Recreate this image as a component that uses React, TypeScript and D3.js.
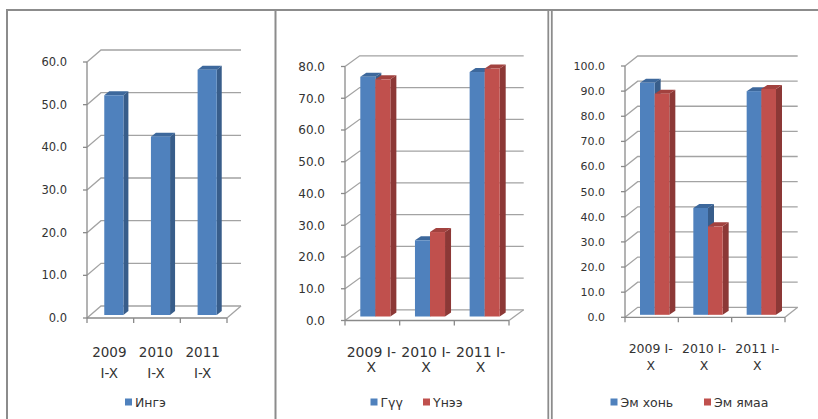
import * as React from 'react';
import * as d3 from 'd3';

const categories = ['2009 I-X', '2010 I-X', '2011 I-X'];

// Panel 1
const ingeValues = [51.5, 41.8, 57.5];
// Panel 2
const guuValues = [75.5, 24.0, 77.0];
const uneeValues = [74.7, 26.6, 78.1];
// Panel 3
const emKhoniValues = [92.3, 42.5, 89.0];
const emYamaaValues = [88.0, 35.2, 89.9];

const ticks1 = [0, 10, 20, 30, 40, 50, 60];
const ticks2 = [0, 10, 20, 30, 40, 50, 60, 70, 80];
const ticks3 = [0, 10, 20, 30, 40, 50, 60, 70, 80, 90, 100];

const BLUE = { front: '#4F81BD', side: '#385D8A', top: '#3D689C' };
const RED = { front: '#C0504D', side: '#8C3836', top: '#A2423F' };

interface Series {
  name: string;
  values: number[];
  color: { front: string; side: string; top: string };
}

interface PanelProps {
  axisX: number;
  floorRight: number;
  zeroY: number;
  topY: number;
  ticks: number[];
  wallDx: number;
  wallDy: number;
  barDx: number;
  barDy: number;
  shiftX: number;
  shiftY: number;
  groupFrac: number;
  series: Series[];
  splitMode: 'space' | 'last';
  labelY: [number, number];
  labelFont: number;
  tickFont: number;
  legendX: number[];
  legendY: number;
}

const splitLabel = (s: string, mode: 'space' | 'last'): [string, string] => {
  if (mode === 'space') {
    const i = s.indexOf(' ');
    return [s.slice(0, i), s.slice(i + 1)];
  }
  return [s.slice(0, s.length - 1), s.slice(s.length - 1)];
};

const fmt = d3.format('.1f');

const Panel: React.FC<PanelProps> = (p) => {
  const y = d3.scaleLinear()
    .domain([0, p.ticks[p.ticks.length - 1]])
    .range([p.zeroY, p.topY]);
  const x = d3.scaleBand<string>().domain(categories).range([p.axisX, p.floorRight]);
  const bw = x.bandwidth();
  const groupW = bw * p.groupFrac;
  const barW = groupW / p.series.length;
  const gridColor = '#A3A3A3';
  const axisColor = '#8A8A8A';

  return (
    <g>
      {/* back wall gridlines */}
      {p.ticks.map((t) => (
        <polyline
          key={'g' + t}
          points={`${p.axisX},${y(t)} ${p.axisX + p.wallDx},${y(t) + p.wallDy} ${p.floorRight + p.wallDx},${y(t) + p.wallDy}`}
          fill="none"
          stroke={gridColor}
          strokeWidth={1.3}
        />
      ))}
      {/* floor */}
      <line x1={p.axisX} x2={p.floorRight} y1={p.zeroY} y2={p.zeroY} stroke={axisColor} strokeWidth={1.3} />
      <line
        x1={p.floorRight} y1={p.zeroY}
        x2={p.floorRight + p.wallDx} y2={p.zeroY + p.wallDy}
        stroke={gridColor} strokeWidth={1.3}
      />
      {/* y axis */}
      <line x1={p.axisX} x2={p.axisX} y1={p.zeroY} y2={p.topY} stroke={axisColor} strokeWidth={1.3} />
      {p.ticks.map((t) => (
        <g key={'t' + t}>
          <line x1={p.axisX - 4} x2={p.axisX} y1={y(t)} y2={y(t)} stroke={axisColor} strokeWidth={1.3} />
          <text
            x={p.axisX - 20}
            y={y(t)}
            dy="0.36em"
            textAnchor="end"
            fontSize={p.tickFont}
            fontFamily="DejaVu Sans"
            fill="#333"
          >
            {fmt(t)}
          </text>
        </g>
      ))}
      {/* x ticks */}
      {categories.map((c, i) => (
        <line
          key={'xt' + c}
          x1={(x(c) || 0)} x2={(x(c) || 0)}
          y1={p.zeroY} y2={p.zeroY + 5}
          stroke={axisColor} strokeWidth={1.3}
        />
      ))}
      <line x1={p.floorRight} x2={p.floorRight} y1={p.zeroY} y2={p.zeroY + 5} stroke={axisColor} strokeWidth={1.3} />
      {/* bars */}
      {categories.map((c, j) => (
        <g key={'b' + c}>
          {p.series.map((s, i) => {
            const bx = (x(c) || 0) + bw / 2 - groupW / 2 + i * barW + p.shiftX;
            const y0 = p.zeroY + p.shiftY;
            const yt = y(s.values[j]) + p.shiftY;
            return (
              <g key={s.name}>
                <polygon
                  points={`${bx + barW},${yt} ${bx + barW + p.barDx},${yt + p.barDy} ${bx + barW + p.barDx},${y0 + p.barDy} ${bx + barW},${y0}`}
                  fill={s.color.side}
                />
                <polygon
                  points={`${bx},${yt} ${bx + p.barDx},${yt + p.barDy} ${bx + barW + p.barDx},${yt + p.barDy} ${bx + barW},${yt}`}
                  fill={s.color.top}
                />
                <rect x={bx} y={yt} width={barW} height={y0 - yt} fill={s.color.front} />
              </g>
            );
          })}
        </g>
      ))}
      {/* category labels */}
      {categories.map((c) => {
        const [l1, l2] = splitLabel(c, p.splitMode);
        const cx = (x(c) || 0) + bw / 2 - 1;
        return (
          <g key={'l' + c} fontSize={p.labelFont} fontFamily="DejaVu Sans" fill="#333" textAnchor="middle">
            <text x={cx} y={p.labelY[0]}>{l1}</text>
            <text x={cx} y={p.labelY[1]}>{l2}</text>
          </g>
        );
      })}
      {/* legend */}
      {p.series.map((s, i) => (
        <g key={'lg' + s.name}>
          <rect x={p.legendX[i]} y={p.legendY - 8} width={7} height={7} fill={s.color.front} />
          <text x={p.legendX[i] + 10} y={p.legendY} fontSize={12.5} fontFamily="DejaVu Sans" fill="#333">
            {s.name}
          </text>
        </g>
      ))}
    </g>
  );
};

const App: React.FC = () => {
  const border = '#8C8C8C';
  return (
    <svg width={818} height={419} style={{ position: 'absolute', left: 0, top: 0, background: '#fff' }}>
      <rect width={818} height={419} fill="#fff" />
      <line x1={6} x2={818} y1={10} y2={10} stroke={border} strokeWidth={2} />
      <line x1={7} x2={7} y1={9} y2={419} stroke={border} strokeWidth={2} />
      <line x1={275.5} x2={275.5} y1={9} y2={419} stroke={border} strokeWidth={2} />
      <line x1={548.3} x2={548.3} y1={9} y2={419} stroke={border} strokeWidth={1.8} />
      <line x1={551.8} x2={551.8} y1={9} y2={419} stroke={border} strokeWidth={1.8} />

      <Panel
        axisX={87} floorRight={227} zeroY={318} topY={62}
        ticks={ticks1} wallDx={14} wallDy={-12}
        barDx={5} barDy={-4} shiftX={3.5} shiftY={-3} groupFrac={0.41}
        series={[{ name: 'Ингэ', values: ingeValues, color: BLUE }]}
        splitMode="space" labelY={[357, 378]} labelFont={13.5} tickFont={11.5}
        legendX={[125]} legendY={406.5}
      />
      <Panel
        axisX={345} floorRight={509} zeroY={320.5} topY={66.5}
        ticks={ticks2} wallDx={14.7} wallDy={-10.7}
        barDx={6} barDy={-4} shiftX={3} shiftY={-4} groupFrac={0.55}
        series={[
          { name: 'Гүү', values: guuValues, color: BLUE },
          { name: 'Үнээ', values: uneeValues, color: RED },
        ]}
        splitMode="last" labelY={[357, 372]} labelFont={14} tickFont={12}
        legendX={[370.5, 423]} legendY={406.5}
      />
      <Panel
        axisX={625} floorRight={785} zeroY={317.3} topY={66}
        ticks={ticks3} wallDx={12.7} wallDy={-10}
        barDx={6} barDy={-4} shiftX={3} shiftY={-2.5} groupFrac={0.55}
        series={[
          { name: 'Эм хонь', values: emKhoniValues, color: BLUE },
          { name: 'Эм ямаа', values: emYamaaValues, color: RED },
        ]}
        splitMode="last" labelY={[353, 370]} labelFont={12.5} tickFont={11}
        legendX={[610.5, 704]} legendY={406.5}
      />
    </svg>
  );
};

export default App;
